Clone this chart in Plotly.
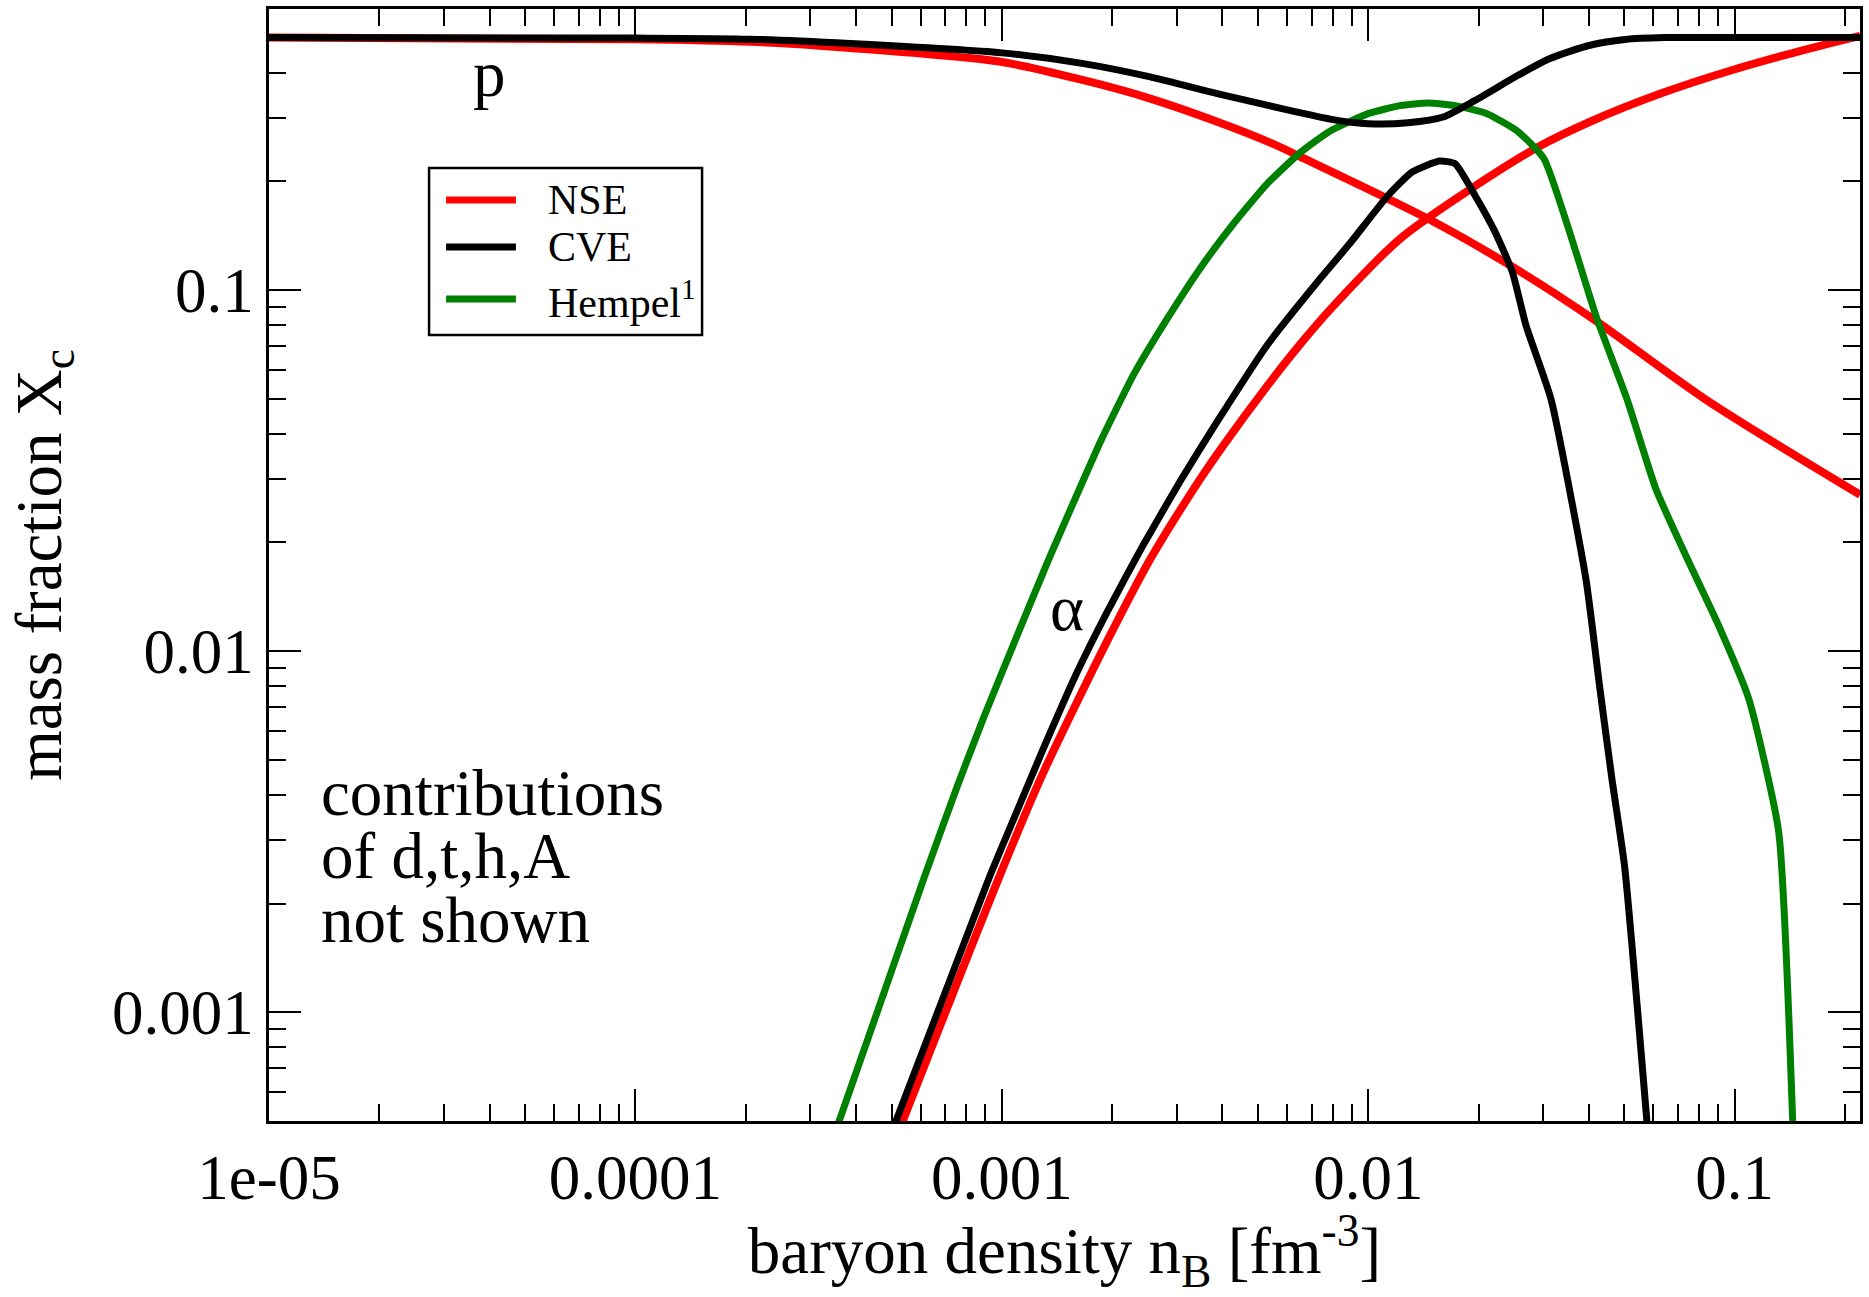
import plotly.graph_objects as go

# Baryon density n_B [fm^-3] and mass fractions X_c
nse_p_x = [1e-5, 1e-4, 2.06e-4, 3.86e-4, 1e-3, 1.67e-3, 2.54e-3, 3.87e-3, 5.40e-3,
           6.72e-3, 0.01456, 0.02453, 0.04107, 0.0830, 0.22]
nse_p_y = [0.500, 0.495, 0.487, 0.468, 0.428, 0.381, 0.339, 0.2925, 0.256,
           0.2307, 0.1575, 0.1166, 0.0832, 0.0499, 0.0271]

nse_a_x = [5.15e-4, 9.77e-4, 1.272e-3, 1.602e-3, 2.012e-3, 2.54e-3, 3.476e-3, 4.016e-3,
           5.295e-3, 6.515e-3, 8.015e-3, 0.01221, 0.01907, 0.02906, 0.04016, 0.06278,
           0.09806, 0.1533, 0.22]
nse_a_y = [4.5e-4, 2.33e-3, 4.41e-3, 7.21e-3, 0.01149, 0.01796, 0.02994, 0.03703,
           0.0542, 0.0707, 0.0901, 0.1386, 0.1907, 0.2489, 0.2920, 0.3499,
           0.4060, 0.4612, 0.5057]

cve_p_x = [1e-5, 1e-4, 2.06e-4, 3.86e-4, 1e-3, 1.67e-3, 2.54e-3, 3.87e-3, 5.40e-3,
           6.10e-3, 8.22e-3, 0.01, 0.01284, 0.01600, 0.01956, 0.02563, 0.03133,
           0.04029, 0.05019, 0.06434, 0.1, 0.22]
cve_p_y = [0.500, 0.4985, 0.4950, 0.4814, 0.4536, 0.4236, 0.3892, 0.3499, 0.3234,
           0.3144, 0.2950, 0.2888, 0.2906, 0.3014, 0.3351, 0.3932, 0.4375,
           0.4762, 0.4939, 0.500, 0.500, 0.500]

cve_a_x = [4.94e-4, 9.19e-4, 1.134e-3, 1.272e-3, 1.602e-3, 1.934e-3, 2.434e-3, 3.098e-3,
           3.861e-3, 5.285e-3, 7.386e-3, 8.845e-3, 0.01132, 0.01317, 0.01565, 0.01725,
           0.01956, 0.02218, 0.02475, 0.02695, 0.03153, 0.03928, 0.04290, 0.04626,
           0.05007, 0.0581]
cve_a_y = [4.5e-4, 2.33e-3, 3.88e-3, 5.12e-3, 8.71e-3, 0.01279, 0.01972, 0.03006,
           0.04305, 0.07012, 0.1074, 0.1334, 0.1827, 0.2122, 0.2276, 0.2238,
           0.1827, 0.1449, 0.1120, 0.0797, 0.0499, 0.0158, 7.83e-3, 4.41e-3,
           2.535e-3, 4.5e-4]

hempel_a_x = [3.47e-4, 6.11e-4, 7.54e-4, 8.91e-4, 1.099e-3, 1.354e-3, 1.688e-3, 1.854e-3,
              2.281e-3, 2.825e-3, 3.476e-3, 4.276e-3, 5.295e-3, 6.515e-3, 7.816e-3,
              9.99e-3, 0.01221, 0.01456, 0.01725, 0.02109, 0.02563, 0.03017, 0.04210,
              0.05083, 0.06099, 0.07437, 0.09062, 0.1094, 0.1318, 0.1445]
hempel_a_y = [4.5e-4, 2.33e-3, 4.20e-3, 6.53e-3, 0.0110, 0.01834, 0.03055, 0.03784,
              0.05794, 0.08318, 0.1148, 0.1521, 0.1968, 0.2399, 0.2745,
              0.3079, 0.3240, 0.3296, 0.3240, 0.3079, 0.2745, 0.2310, 0.0832,
              0.0499, 0.02808, 0.01796, 0.01171, 7.35e-3, 3.17e-3, 4.5e-4]

x_tick_vals = [1e-5, 1e-4, 1e-3, 1e-2, 1e-1]
x_tick_text = ["1e-05", "0.0001", "0.001", "0.01", "0.1"]
y_tick_vals = [1e-3, 1e-2, 1e-1]
y_tick_text = ["0.001", "0.01", "0.1"]

legend_names = ["NSE", "CVE", "Hempel<sup>1</sup>"]
RED, BLACK, GREEN = "#ff0000", "#000000", "#008000"
FONT = "Liberation Serif, Times New Roman, serif"

fig = go.Figure()
# (x, y, colour, width, smoothing)
series = [
    (nse_p_x, nse_p_y, RED, 8, 0.8),
    (nse_a_x, nse_a_y, RED, 8, 0.8),
    (hempel_a_x, hempel_a_y, GREEN, 7, 0.5),
    (cve_p_x, cve_p_y, BLACK, 7, 0.7),
    (cve_a_x, cve_a_y, BLACK, 7, 0.5),
]
for xs, ys, col, w, sm in series:
    fig.add_trace(go.Scatter(x=xs, y=ys, mode="lines", showlegend=False,
                             line=dict(color=col, width=w, shape="spline",
                                       smoothing=sm)))

# minor tick positions 2..9 per decade
x_minor = [k * 10.0 ** d for d in range(-5, 0) for k in range(2, 10) if k * 10.0 ** d <= 0.22]
y_minor = [k * 10.0 ** d for d in range(-4, 0) for k in range(2, 10)
           if 5e-4 <= k * 10.0 ** d <= 0.6]

axis_common = dict(
    type="log", showgrid=False, zeroline=False, showline=True,
    linecolor="black", linewidth=2.5, mirror="ticks",
    ticks="inside", ticklen=32, tickwidth=2, tickcolor="black",
    tickfont=dict(family=FONT, size=63, color="black"),
    automargin=False,
)
fig.update_xaxes(
    **axis_common, range=[-5, -0.658],
    tickmode="array", tickvals=x_tick_vals, ticktext=x_tick_text,
    minor=dict(tickmode="array", tickvals=x_minor, ticks="inside",
               ticklen=17, tickwidth=2, tickcolor="black"),
    title=dict(text="baryon density n<sub>B</sub> [fm<sup>-3</sup>]",
               font=dict(family=FONT, size=65, color="black"), standoff=22),
)
fig.update_yaxes(
    **axis_common, range=[-3.301, -0.2218],
    tickmode="array", tickvals=y_tick_vals, ticktext=y_tick_text,
    minor=dict(tickmode="array", tickvals=y_minor, ticks="inside",
               ticklen=17, tickwidth=2, tickcolor="black"),
    title=dict(text="mass fraction X<sub>c</sub>",
               font=dict(family=FONT, size=65, color="black"), standoff=30),
)

# legend box drawn in paper coordinates
shapes = [dict(type="rect", xref="paper", yref="paper", x0=0.1006, x1=0.2722,
               y0=0.7068, y1=0.8570, line=dict(color="black", width=2.5),
               fillcolor="white", layer="above")]
annotations = []
leg_y = [0.8282, 0.7860, 0.7392]
for name, col, yy in zip(legend_names, [RED, BLACK, GREEN], leg_y):
    shapes.append(dict(type="line", xref="paper", yref="paper", x0=0.1113, x1=0.1552,
                       y0=yy, y1=yy, line=dict(color=col, width=7), layer="above"))
    annotations.append(dict(text=name, xref="paper", yref="paper", x=0.1741, y=yy,
                            xanchor="left", yanchor="middle", showarrow=False,
                            font=dict(family=FONT, size=42, color="black")))

text_font = dict(family=FONT, size=65, color="black")
annotations += [
    dict(text="p", xref="paper", yref="paper", x=0.1384, y=0.9415, showarrow=False,
         xanchor="center", yanchor="middle", font=text_font),
    dict(text="α", xref="paper", yref="paper", x=0.5016, y=0.4613, showarrow=False,
         xanchor="center", yanchor="middle", font=text_font),
]
for line_text, yy in zip(["contributions", "of d,t,h,A", "not shown"],
                         [0.2950, 0.2383, 0.1808]):
    annotations.append(dict(text=line_text, xref="paper", yref="paper", x=0.0317, y=yy,
                            xanchor="left", yanchor="middle", showarrow=False,
                            font=text_font))

fig.update_layout(
    width=1869, height=1297,
    margin=dict(l=269, r=9, t=9, b=176, pad=0),
    paper_bgcolor="white", plot_bgcolor="white",
    shapes=shapes, annotations=annotations,
    font=dict(family=FONT, color="black"),
)

fig.write_html("out.html")
